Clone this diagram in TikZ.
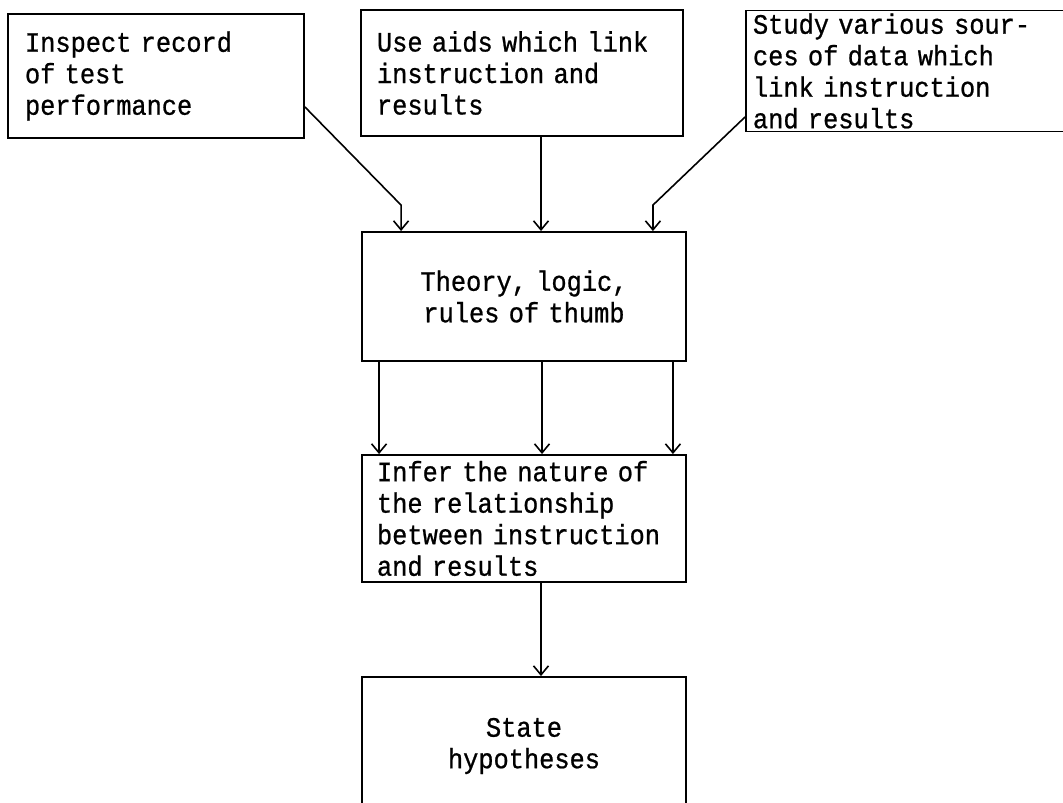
\documentclass[tikz,border=0pt]{standalone}
\usepackage{fontspec}
\newfontfamily\tw{Liberation Mono}[FakeStretch=0.905,FakeBold=0.8]
\usetikzlibrary{arrows.meta}
\begin{document}
\begin{tikzpicture}[x=1pt,y=-1pt,
  box/.style={draw, line width=1.9pt, rectangle, inner ysep=0pt,
    font=\tw\fontsize{28}{31.5}\selectfont},
  lbox/.style={box, align=left},
  cbox/.style={box, align=center},
  arr/.style={line width=1.6pt,
    -{Straight Barb[length=9pt,width=15pt,line width=1.6pt]}}
]
\useasboundingbox (0,0) rectangle (1063,803);
\clip (0,0) rectangle (1063,803);

% sources of evidence
\node[lbox, minimum width=296pt, minimum height=124pt, text width=262pt, inner xsep=17pt]
  (A) at (156,76) {Inspect record\\of test\\performance};
\node[lbox, minimum width=322pt, minimum height=126pt, text width=290pt, inner xsep=16pt]
  (B) at (522,73) {Use aids which link\\instruction and\\results};
\node[lbox, minimum width=334pt, minimum height=121pt, text width=320pt, inner xsep=7pt]
  (C) at (913,71) {Study various sour-\\ces of data which\\link instruction\\and results};

% reasoning chain
\node[cbox, minimum width=324pt, minimum height=129pt, text width=300pt, inner xsep=12pt]
  (T) at (524,296.5) {Theory, logic,\\rules of thumb};
\node[lbox, minimum width=324pt, minimum height=127pt, text width=294pt, inner xsep=15pt]
  (I) at (524,518.5) {Infer the nature of\\the relationship\\between instruction\\and results};
\node[cbox, minimum width=324pt, minimum height=138pt, text width=300pt, inner xsep=12pt]
  (S) at (524,746) {State\\hypotheses};

% connectors into the theory box
\draw[arr] ([yshift=-31pt]A.east) -- ([xshift=40pt,yshift=26pt]T.north west)
  -- ([xshift=40pt]T.north west);
\draw[arr] ([xshift=19pt]B.south) -- ([xshift=17pt]T.north);
\draw[arr] ([yshift=-46pt]C.west) -- ([xshift=-34pt,yshift=26pt]T.north east)
  -- ([xshift=-34pt]T.north east);

% theory to inference
\draw[arr] ([xshift=18pt]T.south west) -- ([xshift=18pt]I.north west);
\draw[arr] ([xshift=18pt]T.south) -- ([xshift=18pt]I.north);
\draw[arr] ([xshift=-14pt]T.south east) -- ([xshift=-14pt]I.north east);

% inference to hypotheses
\draw[arr] ([xshift=17pt]I.south) -- ([xshift=17pt]S.north);
\end{tikzpicture}
\end{document}
